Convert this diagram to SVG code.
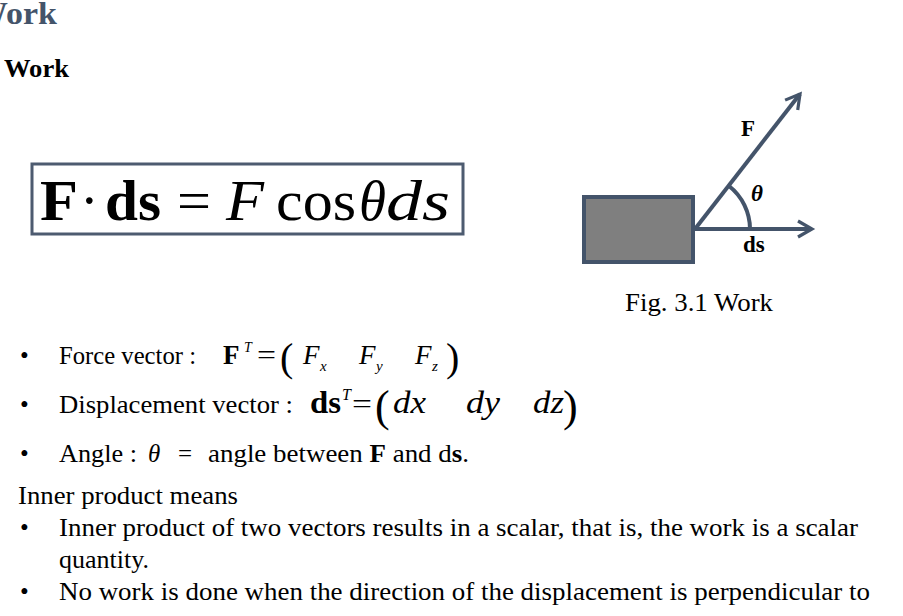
<svg xmlns="http://www.w3.org/2000/svg" width="903" height="616" viewBox="0 0 903 616">
<style>
text{font-family:"Liberation Serif","Times New Roman",serif;fill:#000}
.t{font-size:25px}
.b{font-weight:bold}
.i{font-style:italic}
.ln{stroke:#44546a;stroke-width:4;fill:none}
</style>
<defs>
<marker id="ah" viewBox="0 0 10 10" refX="8" refY="5" markerWidth="5" markerHeight="5" orient="auto" markerUnits="strokeWidth">
<path d="M1,1 L8,5 L1,9" fill="none" stroke="#44546a" stroke-width="1.6"/>
</marker>
</defs>
<rect width="903" height="616" fill="#fff"/>
<text x="-26" y="24" class="b" font-size="32" style="fill:#44546a" textLength="83" lengthAdjust="spacingAndGlyphs">Work</text>
<text x="4" y="77" class="t b" textLength="65" lengthAdjust="spacingAndGlyphs">Work</text>
<g id="equation">
<rect x="32" y="164" width="431" height="70" fill="#fff" stroke="#4d5b70" stroke-width="3"/>
<g font-size="56">
<text x="40" y="220" class="b" textLength="38" lengthAdjust="spacingAndGlyphs">F</text>
<text x="80" y="220">·</text>
<text x="105" y="220" class="b" textLength="56" lengthAdjust="spacingAndGlyphs">ds</text>
<text x="177" y="220" textLength="34" lengthAdjust="spacingAndGlyphs">=</text>
<text x="226" y="220" class="i" textLength="38" lengthAdjust="spacingAndGlyphs">F</text>
<text x="276" y="220" textLength="80" lengthAdjust="spacingAndGlyphs">cos</text>
<text x="359" y="220" class="i" textLength="27" lengthAdjust="spacingAndGlyphs">θ</text>
<text x="386" y="220" class="i" textLength="64" lengthAdjust="spacingAndGlyphs">ds</text>
</g>
</g>
<g id="block"><rect x="584" y="197" width="109" height="65" fill="#7f7f7f" stroke="#44546a" stroke-width="4"/></g>
<g id="connectors">
<line class="ln" x1="695" y1="229" x2="800" y2="94" marker-end="url(#ah)"/>
<line class="ln" x1="695" y1="229" x2="812" y2="229" marker-end="url(#ah)"/>
<path class="ln" d="M750,229 A55,55 0 0 0 729,186" stroke-width="3"/>
</g>
<text x="741" y="136" font-size="23" class="b">F</text>
<text x="751" y="201" font-size="23" class="b i">θ</text>
<text x="743" y="252" font-size="23" class="b">ds</text>
<text x="625" y="311" class="t" textLength="148" lengthAdjust="spacingAndGlyphs">Fig. 3.1 Work</text>
<text x="20" y="364" class="t">•</text><text x="59" y="364" class="t" textLength="137" lengthAdjust="spacingAndGlyphs">Force vector :</text>
<g font-size="27">
<text x="223" y="364" class="b">F</text>
<text x="244" y="352" font-size="14" class="i">T</text>
<text x="257" y="364" textLength="19" lengthAdjust="spacingAndGlyphs">=</text>
<text x="280" y="371" font-size="40">(</text>
<text x="303" y="364" class="i">F</text><text x="320" y="371" font-size="15" class="i">x</text>
<text x="359" y="364" class="i">F</text><text x="376" y="371" font-size="15" class="i">y</text>
<text x="415" y="364" class="i">F</text><text x="432" y="371" font-size="15" class="i">z</text>
<text x="446" y="371" font-size="40">)</text>
</g>
<text x="20" y="413" class="t">•</text><text x="59" y="413" class="t" textLength="234" lengthAdjust="spacingAndGlyphs">Displacement vector :</text>
<g font-size="32">
<text x="310" y="413" class="b" textLength="31" lengthAdjust="spacingAndGlyphs">ds</text>
<text x="342" y="400" font-size="16" class="i">T</text>
<text x="352" y="413" font-size="28" textLength="20" lengthAdjust="spacingAndGlyphs">=</text>
<text x="375" y="421" font-size="44">(</text>
<text x="393" y="413" class="i" textLength="33" lengthAdjust="spacingAndGlyphs">dx</text>
<text x="466" y="413" class="i" textLength="34" lengthAdjust="spacingAndGlyphs">dy</text>
<text x="533" y="413" class="i" textLength="31" lengthAdjust="spacingAndGlyphs">dz</text>
<text x="563" y="421" font-size="44">)</text>
</g>
<text x="20" y="462" class="t">•</text><text x="59" y="462" class="t" textLength="78" lengthAdjust="spacingAndGlyphs">Angle :</text>
<text x="148" y="462" class="t i">θ</text><text x="178" y="462" class="t">=</text>
<text x="208" y="462" class="t" textLength="261" lengthAdjust="spacingAndGlyphs">angle between <tspan class="b">F</tspan> and d<tspan class="b">s</tspan>.</text>
<text x="18" y="504" class="t" textLength="220" lengthAdjust="spacingAndGlyphs">Inner product means</text>
<text x="20" y="536" class="t">•</text><text x="59" y="536" class="t" textLength="799" lengthAdjust="spacingAndGlyphs">Inner product of two vectors results in a scalar, that is, the work is a scalar</text>
<text x="59" y="568" class="t" textLength="90" lengthAdjust="spacingAndGlyphs">quantity.</text>
<text x="20" y="600" class="t">•</text><text x="59" y="600" class="t" textLength="811" lengthAdjust="spacingAndGlyphs">No work is done when the direction of the displacement is perpendicular to</text>
</svg>
